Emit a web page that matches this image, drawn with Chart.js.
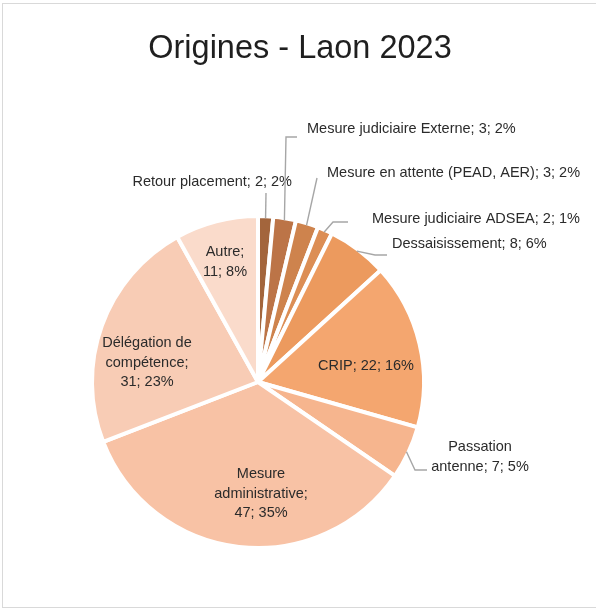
<!DOCTYPE html>
<html>
<head>
<meta charset="utf-8">
<script src="https://cdn.jsdelivr.net/npm/chart.js@4/dist/chart.umd.min.js"></script>
<style>
  body { margin: 0; background: #fff; }
  #wrap { position: relative; width: 596px; height: 608px; overflow: hidden; }
  #frame { position: absolute; left: 2px; top: 3px; width: 610px; height: 603px;
           border: 1px solid #d9d9d9; }
  #chart { position: absolute; left: 0; top: 0; }
</style>
</head>
<body>
<div id="wrap">
  <div id="frame"></div>
  <canvas id="chart" width="596" height="608"></canvas>
</div>
<script>
const chartTitle = "Origines - Laon 2023";

const categories = [
  "Retour placement",
  "Mesure judiciaire Externe",
  "Mesure en attente (PEAD, AER)",
  "Mesure judiciaire ADSEA",
  "Dessaisissement",
  "CRIP",
  "Passation antenne",
  "Mesure administrative",
  "Délégation de compétence",
  "Autre"
];
const counts = [2, 3, 3, 2, 8, 22, 7, 47, 31, 11];
const percents = ["2%", "2%", "2%", "1%", "6%", "16%", "5%", "35%", "23%", "8%"];

const sliceColors = [
  "#a3653c", "#bc7447", "#ce834d", "#dc8e55", "#ec9a5e",
  "#f4a66f", "#f6b58e", "#f8c2a5", "#f8ccb5", "#fadbcb"
];

// where each label goes (x, y of first line), word wrap and leader line bends
const labelLayout = [
  { x: 292, y: 182, align: "right", path: [[266, 193]] },
  { x: 307, y: 129, align: "left", path: [[286, 137], [297, 137]] },
  { x: 327, y: 173, align: "left", path: [[317, 178]] },
  { x: 372, y: 219, align: "left", path: [[333, 222], [348, 222]] },
  { x: 392, y: 244, align: "left", path: [[375, 255], [387, 255]] },
  { x: 366, y: 366, align: "center" },
  { x: 480, y: 447, align: "center", wrap: [1, 3], path: [[415, 470], [427, 470]] },
  { x: 261, y: 474, align: "center", wrap: [1, 1, 2] },
  { x: 147, y: 343, align: "center", wrap: [2, 1, 2] },
  { x: 225, y: 252, align: "center", wrap: [1, 2] }
];

const FONT = '"Liberation Sans", Arial, sans-serif';

const titlePlugin = {
  id: "titleText",
  afterDraw(chart) {
    const ctx = chart.ctx;
    ctx.save();
    ctx.font = "32.5px " + FONT;
    ctx.fillStyle = "#1f1f1f";
    ctx.textAlign = "center";
    ctx.textBaseline = "middle";
    ctx.fillText(chartTitle, 300, 49);
    ctx.restore();
  }
};

const labelPlugin = {
  id: "sliceLabels",
  afterDatasetsDraw(chart) {
    const ctx = chart.ctx;
    const arcs = chart.getDatasetMeta(0).data;
    ctx.save();
    arcs.forEach((arc, i) => {
      const L = labelLayout[i];
      const p = arc.getProps(["x", "y", "startAngle", "endAngle", "outerRadius"], true);
      const mid = (p.startAngle + p.endAngle) / 2;
      if (L.path) {
        const r = p.outerRadius - 2;
        ctx.beginPath();
        ctx.moveTo(p.x + Math.cos(mid) * r, p.y + Math.sin(mid) * r);
        L.path.forEach((pt) => ctx.lineTo(pt[0], pt[1]));
        ctx.strokeStyle = "#a6a6a6";
        ctx.lineWidth = 1.4;
        ctx.stroke();
      }
      const words = `${categories[i]}; ${counts[i]}; ${percents[i]}`.split(" ");
      const wrap = L.wrap || [words.length];
      ctx.font = "14.5px " + FONT;
      ctx.fillStyle = "#2b2b2b";
      ctx.textAlign = L.align;
      ctx.textBaseline = "middle";
      let k = 0;
      wrap.forEach((n, j) => {
        const line = words.slice(k, k + n).join(" ");
        k += n;
        ctx.fillText(line, L.x, L.y + j * 19.7);
      });
    });
    ctx.restore();
  }
};

new Chart(document.getElementById("chart"), {
  type: "pie",
  data: {
    labels: categories,
    datasets: [
      {
        data: counts,
        backgroundColor: sliceColors,
        borderColor: "#ffffff",
        borderWidth: 4,
        hoverOffset: 0
      }
    ]
  },
  options: {
    responsive: false,
    animation: false,
    events: [],
    layout: { padding: { left: 90, right: 170, top: 214, bottom: 58 } },
    plugins: {
      legend: { display: false },
      tooltip: { enabled: false },
      title: { display: false }
    }
  },
  plugins: [titlePlugin, labelPlugin]
});
</script>
</body>
</html>
